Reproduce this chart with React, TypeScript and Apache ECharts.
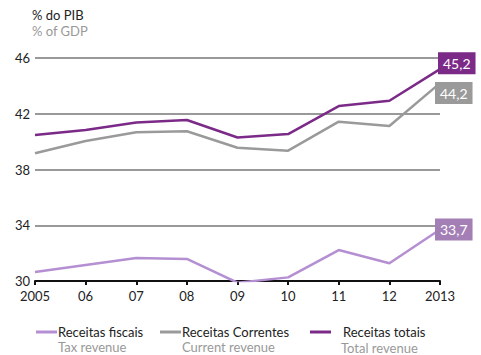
import React, { useEffect, useRef } from "react";
import * as echarts from "echarts";

const years = ["2005", "06", "07", "08", "09", "10", "11", "12", "2013"];
const taxRevenue = [30.65, 31.15, 31.65, 31.58, 29.88, 30.26, 32.22, 31.27, 33.7];
const currentRevenue = [39.16, 40.04, 40.67, 40.74, 39.56, 39.35, 41.43, 41.12, 44.2];
const totalRevenue = [40.47, 40.83, 41.38, 41.55, 40.3, 40.54, 42.55, 42.93, 45.2];
const yTicks = { min: 30, max: 46, interval: 4 };

const FONT = "Lato";
const C_TAX = "#B48FD2";
const C_TAX_BOX = "#A47FB6";
const C_CUR = "#9A9A9A";
const C_TOT = "#7B2A88";

function endLabel(bg: string, offset: number[]) {
  return {
    show: true,
    distance: 0,
    offset,
    formatter: (p: any) => Number(p.value).toFixed(1).replace(".", ","),
    backgroundColor: bg,
    color: "#fff",
    fontFamily: FONT,
    fontSize: 14,
    lineHeight: 16,
    padding: [3, 5, 3, 5],
  };
}

export default function App() {
  const ref = useRef<HTMLDivElement>(null);
  useEffect(() => {
    const chart = echarts.init(ref.current!, null, { renderer: "svg" });
    const legendBase = {
      top: 325,
      padding: 0,
      icon: "rect",
      itemWidth: 21,
      itemHeight: 3,
      textStyle: { fontFamily: FONT, fontSize: 13, lineHeight: 14, color: "#222", padding: [0, 0, 0, -4] },
      selectedMode: false,
    };
    const sub = (text: string, left: number, top: number) => ({
      type: "text",
      left,
      top,
      style: { text, fontFamily: FONT, fontSize: 13, lineHeight: 14, fill: "#999" },
    });
    chart.setOption({
      animation: false,
      textStyle: { fontFamily: FONT },
      grid: { left: 35, right: 41, top: 58, bottom: 74 },
      xAxis: {
        type: "category",
        data: years,
        boundaryGap: false,
        axisLine: { lineStyle: { color: "#111", width: 2 } },
        axisTick: { show: true, length: 4, lineStyle: { color: "#111", width: 2 } },
        axisLabel: { color: "#222", fontSize: 13, margin: 8, fontFamily: FONT },
      },
      yAxis: {
        type: "value",
        min: yTicks.min,
        max: yTicks.max,
        interval: yTicks.interval,
        axisLine: { show: false },
        axisTick: { show: false },
        axisLabel: { color: "#222", fontSize: 13, margin: 5, fontFamily: FONT },
        splitLine: { lineStyle: { color: "#999", width: 2 } },
      },
      legend: [
        { ...legendBase, left: 36, data: ["Receitas fiscais"] },
        { ...legendBase, left: 160, data: ["Receitas Correntes"] },
        {
          ...legendBase,
          left: 310,
          data: ["Receitas totais"],
          textStyle: { ...legendBase.textStyle, padding: [0, 0, 0, 7] },
        },
      ],
      graphic: [
        { type: "text", left: 32, top: 8, style: { text: "% do PIB", fontFamily: FONT, fontSize: 13, fill: "#222" } },
        { type: "text", left: 32, top: 24, style: { text: "% of GDP", fontFamily: FONT, fontSize: 13, fill: "#999" } },
        sub("Tax revenue", 58, 340),
        sub("Current revenue", 182, 340),
        sub("Total revenue", 341, 341),
      ],
      series: [
        {
          name: "Receitas fiscais",
          type: "line",
          data: taxRevenue,
          symbol: "none",
          lineStyle: { color: C_TAX, width: 2.5 },
          itemStyle: { color: C_TAX },
          endLabel: endLabel(C_TAX_BOX, [-5, 0]),
        },
        {
          name: "Receitas Correntes",
          type: "line",
          data: currentRevenue,
          symbol: "none",
          lineStyle: { color: C_CUR, width: 2.5 },
          itemStyle: { color: C_CUR },
          endLabel: endLabel(C_CUR, [-5, 10]),
        },
        {
          name: "Receitas totais",
          type: "line",
          data: totalRevenue,
          symbol: "none",
          lineStyle: { color: C_TOT, width: 2.5 },
          itemStyle: { color: C_TOT },
          endLabel: endLabel(C_TOT, [-2, -6]),
        },
      ],
    });
    return () => chart.dispose();
  }, []);
  return <div ref={ref} style={{ width: 481, height: 355, position: "absolute", left: 0, top: 0 }} />;
}
